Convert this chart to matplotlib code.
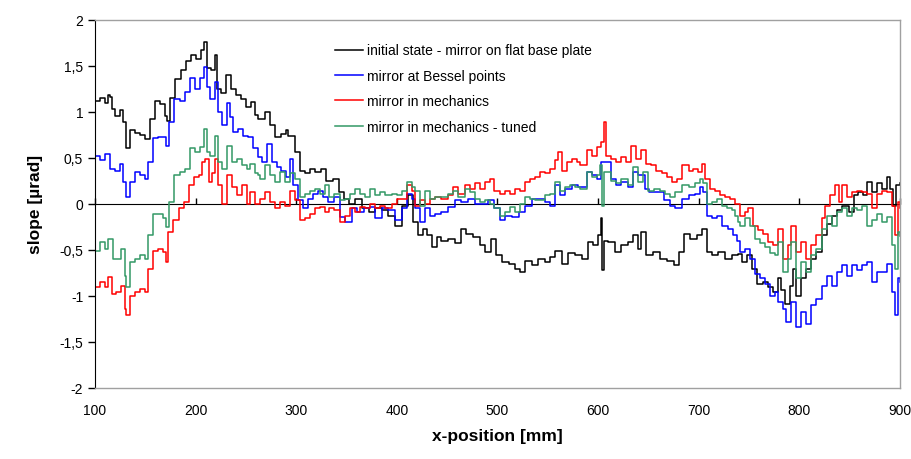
import matplotlib
matplotlib.use("Agg")
import matplotlib.pyplot as plt

plt.rcParams['font.family'] = ['Liberation Sans', 'DejaVu Sans']

# ---------------- data ----------------
black_x = [100,105,110,113,115,117,120,125,128,131,135,140,145,150,155,160,165,170,172,175,180,185,190,195,200,205,208,211,215,219,221,225,230,235,240,245,250,255,259,262,269,274,279,285,290,292,299,304,309,314,319,325,330,337,342,347,352,358,365,372,378,385,391,398,405,411,416,421,426,430,435,440,444,451,458,464,469,476,483,488,494,499,504,511,517,522,527,534,540,547,552,557,564,570,577,584,590,595,600,603,604,606,610,617,623,630,635,640,643,648,655,661,668,675,680,685,691,698,703,708,713,719,726,733,739,743,748,753,758,764,769,774,779,782,786,791,794,797,802,807,812,817,822,827,832,837,842,849,854,858,863,867,872,877,882,887,890,893,896,900]
black_y = [1.12,1.15,1.09,1.18,1.16,1.03,0.95,1.02,0.89,0.60,0.80,0.77,0.75,0.70,0.92,1.12,1.08,0.95,0.90,1.15,1.35,1.45,1.55,1.62,1.57,1.67,1.76,1.47,1.45,1.61,1.25,1.20,1.40,1.25,1.18,1.14,1.05,1.10,0.96,0.92,1.00,0.85,0.72,0.76,0.80,0.74,0.56,0.36,0.33,0.38,0.34,0.38,0.25,0.27,0.13,0.05,0.00,0.05,-0.05,-0.09,-0.05,-0.07,-0.13,-0.24,-0.02,0.09,-0.20,-0.34,-0.27,-0.34,-0.47,-0.36,-0.40,-0.38,-0.43,-0.27,-0.33,-0.36,-0.45,-0.52,-0.38,-0.56,-0.63,-0.65,-0.71,-0.74,-0.62,-0.67,-0.60,-0.63,-0.58,-0.51,-0.65,-0.54,-0.56,-0.60,-0.42,-0.45,-0.34,-0.16,-0.72,-0.40,-0.42,-0.52,-0.45,-0.42,-0.34,-0.49,-0.31,-0.56,-0.52,-0.60,-0.62,-0.67,-0.52,-0.33,-0.38,-0.34,-0.27,-0.52,-0.56,-0.52,-0.60,-0.56,-0.55,-0.63,-0.56,-0.71,-0.87,-0.85,-0.90,-0.96,-0.81,-0.94,-1.09,-0.89,-0.71,-1.00,-0.81,-0.71,-0.60,-0.52,-0.34,-0.22,-0.13,-0.07,-0.02,-0.09,0.09,0.13,0.09,0.24,0.13,0.22,0.16,0.29,0.16,-0.02,0.20,0.22]

blue_x = [100,105,110,115,120,125,128,131,135,140,145,150,153,158,163,168,171,174,179,184,189,194,199,204,208,211,214,219,222,226,231,234,237,242,247,252,257,262,266,271,276,281,285,290,294,297,302,307,312,317,322,327,332,338,343,348,355,360,367,373,378,385,391,398,405,410,415,418,423,428,433,438,444,451,458,464,471,478,484,491,497,502,507,514,521,527,534,540,547,552,557,562,567,574,580,584,589,594,599,603,608,613,618,623,630,635,640,647,651,658,665,671,676,683,690,696,701,704,708,713,718,723,729,734,738,741,746,751,756,761,766,771,776,779,784,787,792,797,802,807,812,817,822,827,832,837,842,847,852,857,862,867,872,877,882,887,892,895,898,900]
blue_y = [0.52,0.47,0.54,0.38,0.36,0.43,0.24,0.07,0.24,0.34,0.31,0.27,0.45,0.71,0.72,0.72,0.63,0.89,1.14,1.12,1.21,1.36,1.25,1.36,1.48,1.27,1.14,1.32,1.00,0.85,1.09,0.94,0.78,0.81,0.74,0.72,0.60,0.51,0.45,0.65,0.45,0.40,0.36,0.29,0.49,0.20,0.04,-0.05,0.05,0.11,0.14,0.07,0.02,0.07,-0.14,-0.20,-0.05,-0.09,-0.05,-0.04,-0.16,-0.05,-0.07,-0.18,-0.05,0.11,0.05,-0.05,-0.20,-0.05,-0.13,-0.11,-0.09,-0.04,0.04,0.02,0.05,0.00,0.00,0.04,-0.05,-0.18,-0.13,-0.14,-0.09,-0.02,0.05,0.05,0.02,-0.02,0.20,0.09,0.16,0.20,0.18,0.18,0.34,0.31,0.27,0.45,0.45,0.27,0.20,0.24,0.18,0.34,0.31,0.16,0.13,0.13,0.04,-0.02,-0.05,0.05,0.09,0.11,0.18,0.13,-0.13,-0.16,-0.13,-0.24,-0.27,-0.34,-0.40,-0.52,-0.49,-0.60,-0.76,-0.81,-0.87,-1.00,-0.96,-1.07,-1.14,-1.28,-1.07,-1.34,-1.18,-1.30,-1.10,-1.03,-0.89,-0.78,-0.89,-0.74,-0.67,-0.78,-0.67,-0.72,-0.67,-0.63,-0.85,-0.74,-0.74,-0.65,-0.96,-1.21,-0.81,-0.85]

red_x = [100,105,110,113,117,121,126,130,131,135,140,145,150,153,158,163,168,171,173,178,183,188,193,198,203,206,209,213,216,219,222,226,231,236,241,246,251,254,259,264,269,274,279,284,289,294,299,304,309,314,319,324,329,333,338,343,348,353,358,363,368,373,378,383,388,395,400,405,410,415,418,423,428,433,438,444,451,456,461,468,473,478,483,488,493,497,502,507,512,517,522,527,532,537,542,547,552,557,560,564,569,574,579,582,589,594,599,603,606,608,613,618,623,628,633,638,643,648,653,658,663,668,673,678,683,690,694,699,703,706,711,716,721,726,731,736,741,746,749,754,759,764,769,774,779,784,789,792,797,802,807,812,817,822,825,830,835,839,842,847,852,857,862,867,872,877,882,887,892,895,898,900]
red_y = [-0.90,-0.85,-0.90,-0.80,-0.98,-0.96,-0.89,-1.14,-1.21,-1.00,-0.96,-0.92,-0.96,-0.71,-0.51,-0.49,-0.52,-0.63,-0.31,-0.18,-0.05,0.02,0.20,0.29,0.31,0.45,0.49,0.24,0.33,0.49,0.20,0.00,0.31,0.18,0.09,0.20,0.00,0.13,0.00,0.05,0.13,0.02,-0.05,0.02,-0.02,0.14,0.04,-0.18,-0.16,-0.11,-0.05,-0.04,-0.09,-0.05,-0.07,-0.20,-0.13,-0.05,-0.09,-0.04,-0.05,0.00,-0.05,-0.02,-0.05,0.00,0.05,0.05,0.20,0.14,-0.02,0.04,0.00,0.05,0.07,0.05,0.09,0.18,0.11,0.20,0.16,0.22,0.16,0.24,0.27,0.14,0.11,0.14,0.11,0.16,0.14,0.24,0.27,0.29,0.34,0.33,0.38,0.47,0.56,0.36,0.45,0.49,0.45,0.42,0.58,0.52,0.62,0.67,0.89,0.52,0.49,0.45,0.51,0.45,0.63,0.49,0.58,0.43,0.42,0.36,0.33,0.29,0.24,0.27,0.42,0.36,0.38,0.34,0.43,0.27,0.16,0.14,0.09,0.07,0.05,0.00,-0.13,-0.09,-0.05,-0.24,-0.29,-0.33,-0.42,-0.45,-0.27,-0.60,-0.45,-0.24,-0.52,-0.42,-0.60,-0.45,-0.34,-0.16,-0.02,0.09,0.20,0.02,0.20,0.07,0.13,0.14,0.13,0.11,-0.05,0.11,0.14,0.13,-0.02,-0.34,0.02,-0.05]

green_x = [100,105,110,113,118,123,126,130,131,135,140,145,150,153,158,163,168,171,174,179,184,189,194,199,204,208,211,214,219,222,226,231,236,241,246,251,254,259,262,264,269,274,279,284,289,294,299,304,309,314,319,324,329,333,338,343,348,353,358,363,368,373,378,383,388,395,400,405,410,415,418,423,428,433,438,444,451,456,461,468,473,478,483,488,493,497,502,507,512,517,522,527,532,537,542,547,552,557,562,567,572,577,582,589,594,599,602,604,606,608,613,618,623,630,635,640,645,650,656,661,666,671,676,683,690,696,701,704,708,713,718,723,728,733,736,739,741,746,751,756,761,766,771,776,779,784,789,792,797,802,807,812,817,822,827,832,837,842,847,852,857,862,867,872,877,882,887,892,895,898,900]
green_y = [-0.51,-0.42,-0.49,-0.38,-0.60,-0.60,-0.49,-0.78,-0.90,-0.63,-0.60,-0.56,-0.60,-0.34,-0.11,-0.11,-0.16,-0.25,0.02,0.31,0.34,0.38,0.60,0.56,0.62,0.81,0.56,0.52,0.74,0.45,0.38,0.63,0.45,0.49,0.42,0.38,0.43,0.33,0.31,0.27,0.42,0.31,0.24,0.34,0.24,0.33,0.27,0.07,0.11,0.14,0.16,0.11,0.20,0.07,0.11,0.04,0.05,0.11,0.16,0.11,0.07,0.16,0.09,0.13,0.09,0.11,0.09,0.14,0.24,0.18,0.14,-0.02,0.14,0.05,0.07,0.07,0.11,0.14,0.07,0.16,0.13,0.05,0.02,0.04,0.00,-0.05,-0.13,-0.09,-0.04,-0.09,0.00,0.07,0.05,0.04,0.04,0.09,0.11,0.24,0.14,0.18,0.20,0.18,0.16,0.34,0.29,0.31,0.42,-0.02,0.34,0.34,0.25,0.22,0.27,0.20,0.40,0.24,0.34,0.14,0.16,0.14,0.11,0.07,0.13,0.20,0.18,0.22,0.27,0.22,0.00,0.02,0.05,-0.02,-0.05,-0.07,-0.13,-0.20,-0.24,-0.16,-0.24,-0.38,-0.43,-0.47,-0.54,-0.56,-0.42,-0.74,-0.60,-0.42,-0.81,-0.63,-0.74,-0.56,-0.49,-0.27,-0.13,-0.24,-0.09,-0.05,-0.13,-0.05,-0.07,-0.02,-0.24,-0.18,-0.11,-0.20,-0.14,-0.45,-0.71,-0.31,-0.35]

labels = ["initial state - mirror on flat base plate",
          "mirror at Bessel points",
          "mirror in mechanics",
          "mirror in mechanics - tuned"]
colors = ["#000000", "#0000FF", "#FF0000", "#339966"]

x_ticks = [100, 200, 300, 400, 500, 600, 700, 800, 900]
y_ticks = [-2, -1.5, -1, -0.5, 0, 0.5, 1, 1.5, 2]
y_tick_labels = ["-2", "-1,5", "-1", "-0,5", "0", "0,5", "1", "1,5", "2"]

# ---------------- plot ----------------
fig = plt.figure(figsize=(9.12, 4.60), dpi=100)
ax = fig.add_axes([95/912, 1-389/460, (900-95)/912, (389-20.5)/460])

series = [(black_x, black_y), (blue_x, blue_y), (red_x, red_y), (green_x, green_y)]
for (xs, ys), lab, col in zip(series, labels, colors):
    ax.plot(xs, ys, drawstyle="steps-post", color=col, lw=1.1, label=lab)

ax.set_xlim(100, 900)
ax.set_ylim(-2, 2)
ax.set_yticks(y_ticks)
ax.set_yticklabels(y_tick_labels, fontsize=10)
ax.set_xticks(x_ticks)
ax.set_xticklabels([str(t) for t in x_ticks], fontsize=10)
ax.tick_params(axis="x", length=0, pad=11)
ax.tick_params(axis="y", length=5, direction="out", width=1)

for s in ["top", "right", "bottom"]:
    ax.spines[s].set_color("#a0a0a0")
    ax.spines[s].set_linewidth(1)
ax.spines["left"].set_color("black")

# zero-line x axis with tick marks
sec = ax.secondary_xaxis(0.5)
sec.set_xticks(x_ticks)
sec.set_xticklabels([])
sec.tick_params(axis="x", direction="out", length=4, width=1, color="black")
sec.spines["bottom"].set_color("black")
sec.spines["bottom"].set_linewidth(1.2)

ax.set_ylabel("slope [µrad]", fontsize=12.5, fontweight="bold", labelpad=12)
ax.set_xlabel("x-position [mm]", fontsize=12.5, fontweight="bold", labelpad=8)

ax.legend(loc="upper left", bbox_to_anchor=(0.298, 0.935), frameon=False,
          fontsize=10, handlelength=2.0, handletextpad=0.3, labelspacing=0.82,
          borderpad=0, borderaxespad=0)

fig.savefig("out.png", dpi=100)
